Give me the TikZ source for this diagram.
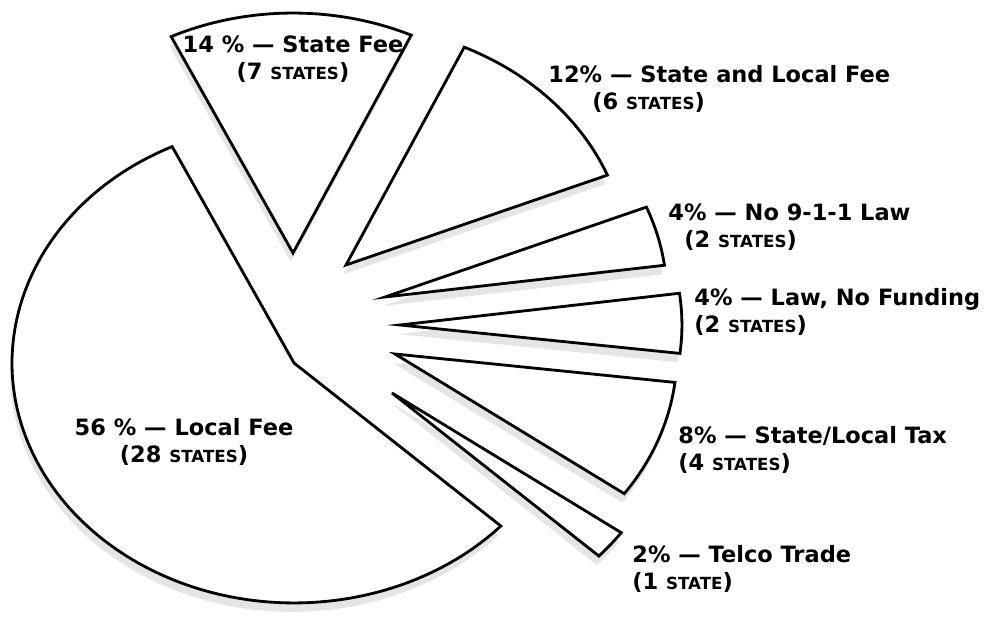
\documentclass[tikz,border=0pt]{standalone}
\usepackage{fontspec}
\setmainfont{DejaVu Sans}
\usepackage{xcolor}
\usetikzlibrary{calc}

\newcommand{\smst}[1]{{\fontsize{9.5}{12}\selectfont #1}}

\begin{document}
\begin{tikzpicture}[x=0.02cm, y=0.02cm,
    every node/.style={font=\bfseries\fontsize{12.8}{15.5}\selectfont, inner sep=0pt},
    slice/.style={draw, line width=1.6pt, fill=white},
    stipple/.style={fill=gray!20, draw=none}]
    \useasboundingbox (0,0) rectangle (990,628);
    % apex of each slice
    \coordinate (local) at (294,265);
    \coordinate (state) at (293,375);
    \coordinate (stloc) at (346,363);
    \coordinate (nolaw) at (385,331);
    \coordinate (nofund) at (400,303);
    \coordinate (tax) at (395,274);
    \coordinate (telco) at (392,235);
    % shadows first
    \foreach \p/\a/\b in {local/115.6/317.2, state/65.2/115.6, stloc/22/65.2,
        nolaw/7.6/22, nofund/-6.8/7.6, tax/-35.6/-6.8, telco/-42.8/-35.6}
        \fill[stipple] ([shift={(-2,-9)}]\p) -- ++(\a:5.64cm and 4.8cm)
            arc[start angle=\a, end angle=\b, x radius=5.64cm, y radius=4.8cm] -- cycle;
    % slices
    \foreach \p/\a/\b in {local/115.6/317.2, state/65.2/115.6, stloc/22/65.2,
        nolaw/7.6/22, nofund/-6.8/7.6, tax/-35.6/-6.8, telco/-42.8/-35.6}
        \draw[slice] (\p) -- ++(\a:5.64cm and 4.8cm)
            arc[start angle=\a, end angle=\b, x radius=5.64cm, y radius=4.8cm] -- cycle;
    % labels
    \node (lbllocal) [align=center] at (184,186) {56 \% — Local Fee\\(28 \smst{STATES})};
    \node (lblstate) [align=center] at (293,569) {14 \% — State Fee\\(7 \smst{STATES})};
    \node (lblstloc) [align=left, anchor=west] at (548,539) {12\% — State and Local Fee\\\hspace{0.88cm}(6 \smst{STATES})};
    \node (lblnolaw) [align=left, anchor=west] at (668,401) {4\% — No 9-1-1 Law\\\hspace{0.32cm}(2 \smst{STATES})};
    \node (lblnofund) [align=left, anchor=west] at (694,316) {4\% — Law, No Funding\\(2 \smst{STATES})};
    \node (lbltax) [align=left, anchor=west] at (678,178) {8\% — State/Local Tax\\(4 \smst{STATES})};
    \node (lbltelco) [align=left, anchor=west] at (632,59) {2\% — Telco Trade\\(1 \smst{STATE})};
\end{tikzpicture}
\end{document}
